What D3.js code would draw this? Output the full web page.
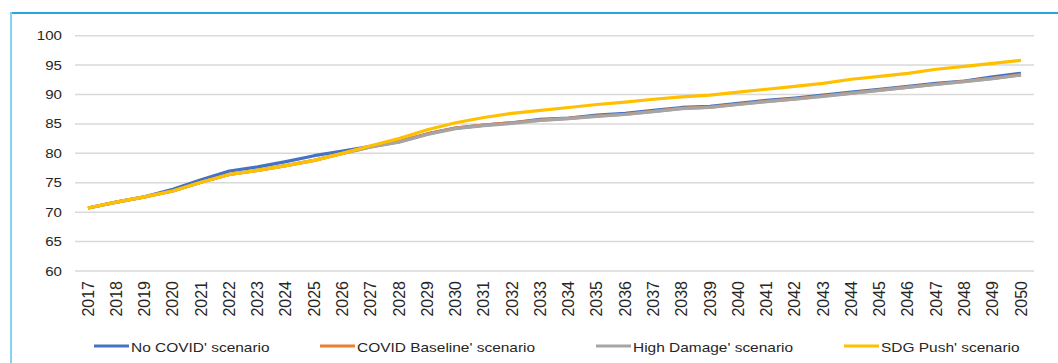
<!DOCTYPE html>
<html><head><meta charset="utf-8">
<script src="https://cdn.jsdelivr.net/npm/d3@7"></script>
<style>html,body{margin:0;padding:0;background:#fff;}svg{display:block;}</style>
</head><body>
<svg id="c" width="1058" height="363"></svg>
<script>
const years = d3.range(2017, 2051).map(String);
const yTicks = [60, 65, 70, 75, 80, 85, 90, 95, 100];
const seriesNames = ["No COVID' scenario", "COVID Baseline' scenario", "High Damage' scenario", "SDG Push' scenario"];
const seriesColors = ["#4472c4", "#ed7d31", "#a5a5a5", "#ffc000"];
const noCovid = [70.7,71.7,72.6,73.9,75.5,77.0,77.7,78.6,79.6,80.4,81.2,82.0,83.3,84.3,84.8,85.2,85.8,86.0,86.5,86.8,87.3,87.8,88.0,88.5,89.0,89.4,89.9,90.4,90.9,91.4,91.9,92.3,93.0,93.6];
const covidBaseline = [70.7,71.7,72.6,73.6,75.1,76.4,77.1,77.9,78.8,80.0,81.1,82.0,83.3,84.3,84.8,85.2,85.65,85.95,86.35,86.65,87.15,87.65,87.85,88.35,88.85,89.25,89.75,90.25,90.75,91.25,91.75,92.25,92.75,93.35];
const highDamage = [70.7,71.7,72.6,73.6,75.1,76.4,77.1,77.9,78.8,80.0,81.1,81.9,83.2,84.2,84.7,85.1,85.6,85.9,86.3,86.6,87.1,87.6,87.8,88.3,88.8,89.2,89.7,90.2,90.7,91.2,91.7,92.2,92.7,93.3];
const sdgPush = [70.7,71.7,72.6,73.6,75.1,76.4,77.1,77.9,78.8,80.0,81.3,82.5,84.0,85.2,86.1,86.8,87.3,87.8,88.3,88.7,89.2,89.6,89.9,90.4,90.9,91.4,91.9,92.6,93.1,93.6,94.3,94.8,95.3,95.8];
const allSeries = [noCovid, covidBaseline, highDamage, sdgPush];

const svg = d3.select("#c");
const FONT = "'Liberation Sans', Arial, sans-serif";

// frame borders
svg.append("line").attr("x1", 11).attr("x2", 1058).attr("y1", 13).attr("y2", 13)
  .attr("stroke", "#2aa4dc").attr("stroke-width", 2);
svg.append("line").attr("x1", 11).attr("x2", 11).attr("y1", 12).attr("y2", 363)
  .attr("stroke", "#86d0f0").attr("stroke-width", 2);

const x = d3.scalePoint().domain(years).range([88, 1021]);
const y = d3.scaleLinear().domain([60, 100]).range([271, 35.7]);

// gridlines
svg.append("g").selectAll("line").data(yTicks).join("line")
  .attr("x1", 75).attr("x2", 1034)
  .attr("y1", d => y(d)).attr("y2", d => y(d))
  .attr("stroke", "#d9d9d9").attr("stroke-width", 1.5);

// y labels
svg.append("g").selectAll("text").data(yTicks).join("text")
  .attr("transform", d => `translate(62,${y(d) + 4.5}) scale(1.16,1)`)
  .attr("text-anchor", "end")
  .attr("font-family", FONT).attr("font-size", 13).attr("fill", "#262626")
  .text(d => d);

// x labels
svg.append("g").selectAll("text").data(years).join("text")
  .attr("transform", d => `translate(${x(d) + 5.5},281) rotate(-90)`)
  .attr("text-anchor", "end")
  .attr("font-family", FONT).attr("font-size", 16).attr("fill", "#262626")
  .text(d => d);

// lines
const line = d3.line().x((d, i) => x(years[i])).y(d => y(d));
svg.append("g").selectAll("path").data(allSeries).join("path")
  .attr("d", d => line(d))
  .attr("fill", "none")
  .attr("stroke", (d, i) => seriesColors[i])
  .attr("stroke-width", 3.2)
  .attr("stroke-linejoin", "round");

// legend
const legX = [94, 320, 596, 844];
const lg = svg.append("g").selectAll("g").data(seriesNames).join("g")
  .attr("transform", (d, i) => `translate(${legX[i]},346)`);
lg.append("line").attr("x1", 0).attr("x2", 35).attr("y1", 0).attr("y2", 0)
  .attr("stroke", (d, i) => seriesColors[i]).attr("stroke-width", 3);
lg.append("text")
  .attr("transform", "translate(37,5.5) scale(1.19,1)")
  .attr("font-family", FONT).attr("font-size", 13).attr("fill", "#262626")
  .text(d => d);
</script>
</body></html>
